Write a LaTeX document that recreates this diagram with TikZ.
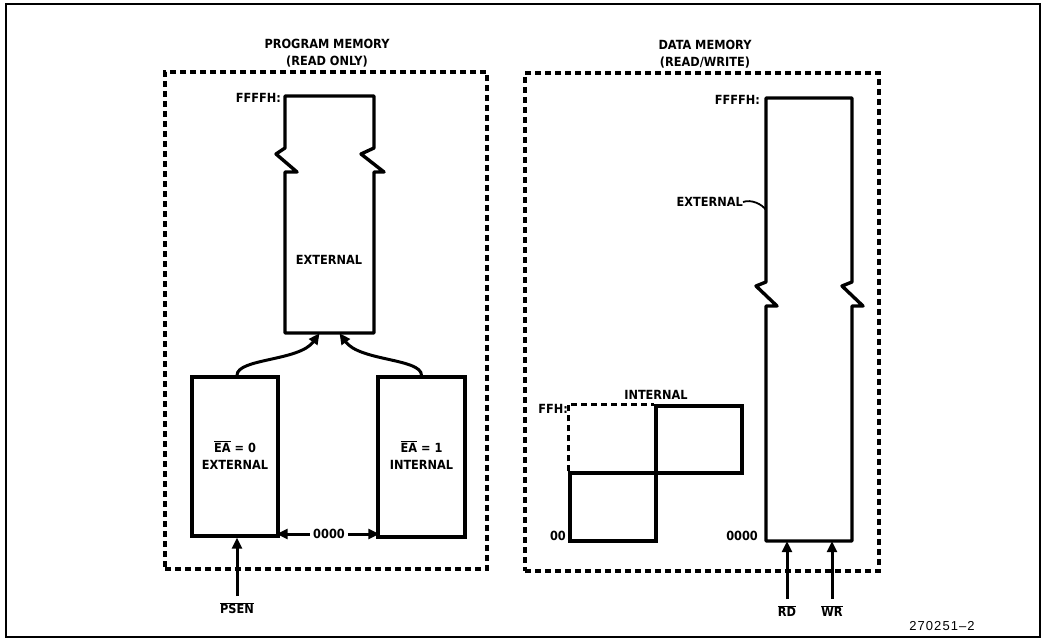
\documentclass[tikz,border=0pt]{standalone}
\usepackage{fontspec}
\setmainfont{Liberation Sans}
\newfontfamily\lblfont{DejaVu Sans Condensed}
\usetikzlibrary{arrows.meta}
\newcommand\ovl[1]{$\overline{\mbox{#1}}$}
\begin{document}
\begin{tikzpicture}[x=1pt,y=-1pt,
  lbl/.style={font=\lblfont\fontsize{12.6}{17}\selectfont\bfseries, inner sep=0pt, align=center},
  membox/.style={draw, line width=3.4pt, inner sep=0pt},
  invis/.style={inner sep=0pt},
  dashbox/.style={draw, line width=3.2pt, dash pattern=on 6pt off 4pt, inner sep=0pt},
  dashline/.style={line width=3.2pt, dash pattern=on 6pt off 4pt},
  outline/.style={line width=3.4pt, line join=round},
  arr/.style={line width=3pt, -{Triangle[length=11pt,width=10pt]}},
]
\useasboundingbox (0,0) rectangle (1044,642);
\draw[line width=1.8pt] (6,4) rectangle (1040,637);

% ---------- Program memory ----------
\node[dashbox, minimum width=322, minimum height=497] (pm) at (326,320.5) {};
\node[lbl] (pmt) at (327,53) {PROGRAM MEMORY\\(READ ONLY)};

\node[invis, minimum width=89, minimum height=237] (pext) at (329.5,214.5) {};
\draw[outline] (285,148) -- (285,96) -- (374,96) -- (374,148) -- (361,154) -- (384,172)
  -- (374,172) -- (374,333) -- (285,333) -- (285,172) -- (297,172) -- (276,154) -- cycle;
\node[lbl, anchor=east] (pfh) at (281,98) {FFFFH:};
\node[lbl] (pextl) at (329,260) {EXTERNAL};

\node[membox, minimum width=86, minimum height=159] (ea0) at (235,456.5) {};
\node[lbl] (ea0l) at (235,455) {\ovl{EA} = 0\\EXTERNAL};
\node[membox, minimum width=87, minimum height=160] (ea1) at (421.5,457) {};
\node[lbl] (ea1l) at (421.5,455) {\ovl{EA} = 1\\INTERNAL};

\draw[arr] ([xshift=2pt]ea0.north) .. controls +(0,-17) and +(-20,28) .. ([xshift=-10pt]pext.south);
\draw[arr] ([xshift=0pt]ea1.north) .. controls +(0,-17) and +(20,28) .. ([xshift=10pt]pext.south);

\node[lbl] (pz) at (329,534) {0000};
\draw[arr] ([xshift=-3pt]pz.west) -- ([xshift=-3pt]pz.west -| ea0.east);
\draw[arr] ([xshift=3pt]pz.east) -- ([xshift=3pt]pz.east -| ea1.west);

\node[lbl] (psen) at (237,608) {\ovl{PSEN}};
\draw[arr] ([yshift=6pt]psen.north) -- (psen.north |- ea0.south);

% ---------- Data memory ----------
\node[dashbox, minimum width=354, minimum height=498] (dm) at (702,322) {};
\node[lbl] (dmt) at (705,54) {DATA MEMORY\\(READ/WRITE)};

\node[invis, minimum width=86, minimum height=443] (dext) at (809,319.5) {};
\draw[outline] (766,282) -- (766,98) -- (852,98) -- (852,282) -- (842,286) -- (863,306)
  -- (852,306) -- (852,541) -- (766,541) -- (766,306) -- (777,306) -- (756,286) -- cycle;
\node[lbl, anchor=east] (dfh) at (760,100) {FFFFH:};
\node[lbl, anchor=east] (dextl) at (743,202) {EXTERNAL};
\coordinate (dextp) at (766,210);
\draw[line width=1.8pt] (dextl.east) .. controls +(8,-3) and +(-4,-6) .. (dextp);
\node[lbl, anchor=east] (dz) at (758,536) {0000};

\node[membox, minimum width=86, minimum height=68] (ilow) at (613,507) {};
\node[membox, minimum width=86, minimum height=67] (iup) at (699,439.5) {};
\draw[dashline] (ilow.north west) -- (ilow.north west |- iup.north) -- (iup.north west);
\node[lbl] (intl) at (656,395) {INTERNAL};
\node[lbl, anchor=east] (ffh) at (568,409) {FFH:};
\node[lbl, anchor=east] (izz) at (566,536) {00};

\node[lbl] (rd) at (787,611) {\ovl{RD}};
\node[lbl] (wr) at (832,611) {\ovl{WR}};
\draw[arr] ([yshift=6pt]rd.north) -- (rd.north |- dext.south);
\draw[arr] ([yshift=6pt]wr.north) -- (wr.north |- dext.south);

\node[font=\fontsize{13}{14}\selectfont\addfontfeature{LetterSpace=8}, inner sep=0pt] (fig) at (942,626) {270251--2};
\end{tikzpicture}
\end{document}
